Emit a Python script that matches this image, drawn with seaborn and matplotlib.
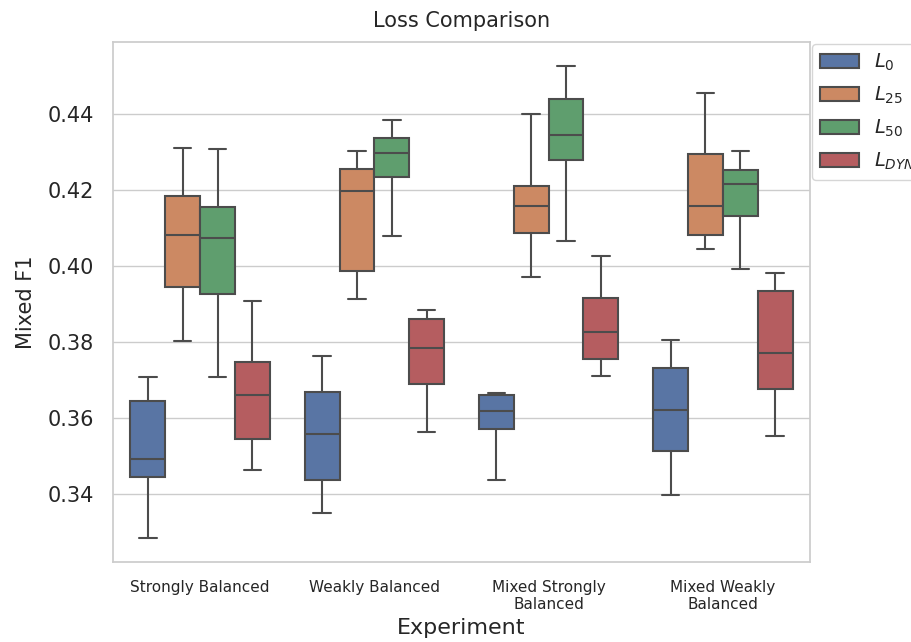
import matplotlib
matplotlib.use("Agg")
import matplotlib.pyplot as plt
import seaborn as sns
import pandas as pd

# Experiment groups shown along the x axis
experiments = ["Strongly Balanced", "Weakly Balanced",
               "Mixed Strongly\nBalanced", "Mixed Weakly\nBalanced"]
losses = ["$L_0$", "$L_{25}$", "$L_{50}$", "$L_{DYN}$"]

# Mixed F1 over five runs per experiment
l0_strong = [0.3282, 0.3445, 0.3492, 0.3645, 0.3707]
l0_weak = [0.3348, 0.3437, 0.3557, 0.3667, 0.3763]
l0_mixed_strong = [0.3437, 0.3570, 0.3619, 0.3659, 0.3664]
l0_mixed_weak = [0.3397, 0.3513, 0.3621, 0.3732, 0.3806]

l25_strong = [0.3801, 0.3945, 0.4082, 0.4185, 0.4311]
l25_weak = [0.3914, 0.3986, 0.4198, 0.4255, 0.4304]
l25_mixed_strong = [0.3970, 0.4087, 0.4157, 0.4211, 0.4400]
l25_mixed_weak = [0.4045, 0.4082, 0.4159, 0.4296, 0.4455]

l50_strong = [0.3707, 0.3927, 0.4074, 0.4155, 0.4307]
l50_weak = [0.4079, 0.4234, 0.4298, 0.4336, 0.4385]
l50_mixed_strong = [0.4066, 0.4279, 0.4345, 0.4441, 0.4528]
l50_mixed_weak = [0.3993, 0.4131, 0.4216, 0.4253, 0.4304]

ldyn_strong = [0.3463, 0.3545, 0.3660, 0.3748, 0.3908]
ldyn_weak = [0.3563, 0.3689, 0.3783, 0.3859, 0.3885]
ldyn_mixed_strong = [0.3711, 0.3756, 0.3826, 0.3915, 0.4026]
ldyn_mixed_weak = [0.3553, 0.3675, 0.3771, 0.3934, 0.3982]

runs = {
    "$L_0$": [l0_strong, l0_weak, l0_mixed_strong, l0_mixed_weak],
    "$L_{25}$": [l25_strong, l25_weak, l25_mixed_strong, l25_mixed_weak],
    "$L_{50}$": [l50_strong, l50_weak, l50_mixed_strong, l50_mixed_weak],
    "$L_{DYN}$": [ldyn_strong, ldyn_weak, ldyn_mixed_strong, ldyn_mixed_weak],
}

rows = []
for loss in losses:
    for exp, values in zip(experiments, runs[loss]):
        for v in values:
            rows.append({"Experiment": exp, "Loss": loss, "Mixed F1": v})
df = pd.DataFrame(rows)

sns.set_theme(style="whitegrid", font_scale=1.35)

fig = plt.figure(figsize=(9.12, 6.42), dpi=100)
ax = fig.add_axes([113 / 912, 1 - 562 / 642, (810 - 113) / 912, (562 - 42) / 642])

sns.boxplot(data=df, x="Experiment", y="Mixed F1", hue="Loss",
            order=experiments, hue_order=losses, whis=(0, 100),
            linewidth=1.5, ax=ax)

ax.set_title("Loss Comparison", fontsize=15, pad=10.5)
ax.set_xlabel("Experiment", fontsize=16)
ax.set_ylabel("Mixed F1", fontsize=15, labelpad=8.5)
ax.tick_params(axis="x", labelsize=11, pad=7)
ax.tick_params(axis="y", labelsize=15, pad=7.5)

ax.legend(loc="upper left", bbox_to_anchor=(1.0, 1.0), borderaxespad=0.1,
          fontsize=14, labelspacing=0.6)

fig.savefig("out.png", dpi=100)
